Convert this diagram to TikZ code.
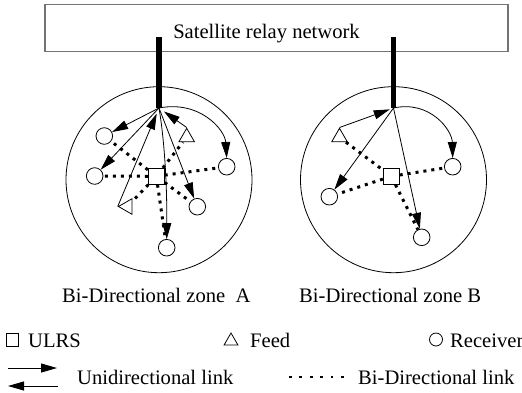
\documentclass[tikz,border=0pt]{standalone}
\usepackage{fontspec}
\setmainfont{Liberation Serif}
\usetikzlibrary{arrows.meta,shapes.geometric}
\begin{document}
\begin{tikzpicture}[x=1pt,y=-1pt,
  font=\fontsize{20.6}{24}\selectfont,
  lbl/.style={inner sep=0pt, anchor=base west},
  zone/.style={circle, draw, line width=0.8pt, minimum size=186pt, inner sep=0pt},
  rcv/.style={circle, draw, line width=0.8pt, minimum size=16.6pt, inner sep=0pt},
  ulrs/.style={rectangle, draw, line width=0.8pt, minimum size=16pt, inner sep=0pt},
  feed/.style={regular polygon, regular polygon sides=3, draw, line width=0.8pt, minimum size=18pt, inner sep=0pt},
  uni/.style={line width=0.8pt, -{Triangle[length=16pt,width=9pt]}},
  bi/.style={line width=3pt, dash pattern=on 3pt off 5pt},
  bar/.style={line width=5.5pt},
  satbox/.style={draw=black!55, line width=1.3pt, minimum width=463pt, minimum height=47pt, inner sep=0pt}
]
\useasboundingbox (0,0) rectangle (522,392);

% satellite relay network
\node[satbox] (sat) at (276.5,28.2) {};
\node[inner sep=0pt, anchor=base] (sattext) at (266.5,38) {Satellite relay network};
\coordinate (barA) at (159,37);
\coordinate (hubA) at (159,108);
\coordinate (barB) at (393.5,37);
\coordinate (hubB) at (393.5,108);
\draw[bar] (barA) -- (hubA);
\draw[bar] (barB) -- (hubB);

% zones
\node[zone] (zoneA) at (159,179.7) {};
\node[zone] (zoneB) at (393.5,179.7) {};

% zone A nodes
\node[rcv] (RA1) at (104.3,136) {};
\node[rcv] (RA2) at (94.7,176) {};
\node[rcv] (RA3) at (226.7,166.7) {};
\node[rcv] (RA4) at (197.3,206.7) {};
\node[rcv] (RA5) at (166.7,247.7) {};
\node[feed] (TA1) at (186.7,137.3) {};
\node[feed, shape border rotate=90] (TA2) at (127.5,206.5) {};
\node[ulrs] (SA) at (156.3,176.3) {};

% zone A links
\draw[bi] (SA) -- (RA1);
\draw[bi] (SA) -- (RA2);
\draw[bi] (SA) -- (RA3);
\draw[bi] (SA) -- (RA4);
\draw[bi] (SA) -- (RA5);
\draw[bi] (SA) -- (TA1);
\draw[bi] (SA) -- (TA2);
\draw[uni] (hubA) -- (RA1);
\draw[uni] (hubA) -- (RA2);
\draw[uni, shorten >=6pt] (TA2.corner 1) -- (hubA);
\draw[uni] (hubA) .. controls (166,150) and (167,200) .. (RA5.north);
\draw[uni] (hubA) -- (RA4);
\draw[uni, shorten >=6pt] (TA1.corner 1) -- (hubA);
\draw[uni] (hubA) .. controls (200,100) and (225,130) .. (RA3.north);

% zone B nodes
\node[feed] (TB) at (339.5,137.3) {};
\node[ulrs] (SB) at (391.3,176.3) {};
\node[rcv] (RB1) at (452.7,166.7) {};
\node[rcv] (RB2) at (329.3,196.7) {};
\node[rcv] (RB3) at (421.7,237.3) {};

% zone B links
\draw[bi] (TB) -- (SB);
\draw[bi] (SB) -- (RB1);
\draw[bi] (SB) -- (RB2);
\draw[bi] (SB) -- (RB3);
\draw[uni, shorten >=4pt] (TB.corner 1) -- (hubB);
\draw[uni] (hubB) -- (RB2);
\draw[uni] (hubB) -- (RB3);
\draw[uni] (hubB) .. controls (430,100) and (452,130) .. (RB1.north);

% zone labels
\node[lbl] (labA) at (62,302) {Bi-Directional zone\ \ A};
\node[lbl] (labB) at (299,302) {Bi-Directional zone B};

% legend
\node[ulrs, minimum size=12.5pt] (legS) at (12.5,340) {};
\node[lbl] (legStext) at (28,347) {ULRS};
\node[feed, minimum size=16pt] (legT) at (231,341) {};
\node[lbl] (legTtext) at (250,347) {Feed};
\node[rcv, minimum size=13pt] (legR) at (436,339.5) {};
\node[lbl] (legRtext) at (450,347) {Receiver};

\coordinate (ua1) at (8,368);
\coordinate (ua2) at (57,368);
\draw[uni, line width=1pt] (ua1) -- (ua2);
\coordinate (ub1) at (58,386);
\coordinate (ub2) at (8,386);
\draw[uni, line width=1pt] (ub1) -- (ub2);
\node[lbl] (legU) at (77,384) {Unidirectional link};
\coordinate (d1) at (289,377);
\coordinate (d2) at (344,377);
\draw[line width=2.8pt, dash pattern=on 2.8pt off 7.6pt] (d1) -- (d2);
\node[lbl] (legB) at (358,384) {Bi-Directional link};
\end{tikzpicture}
\end{document}
